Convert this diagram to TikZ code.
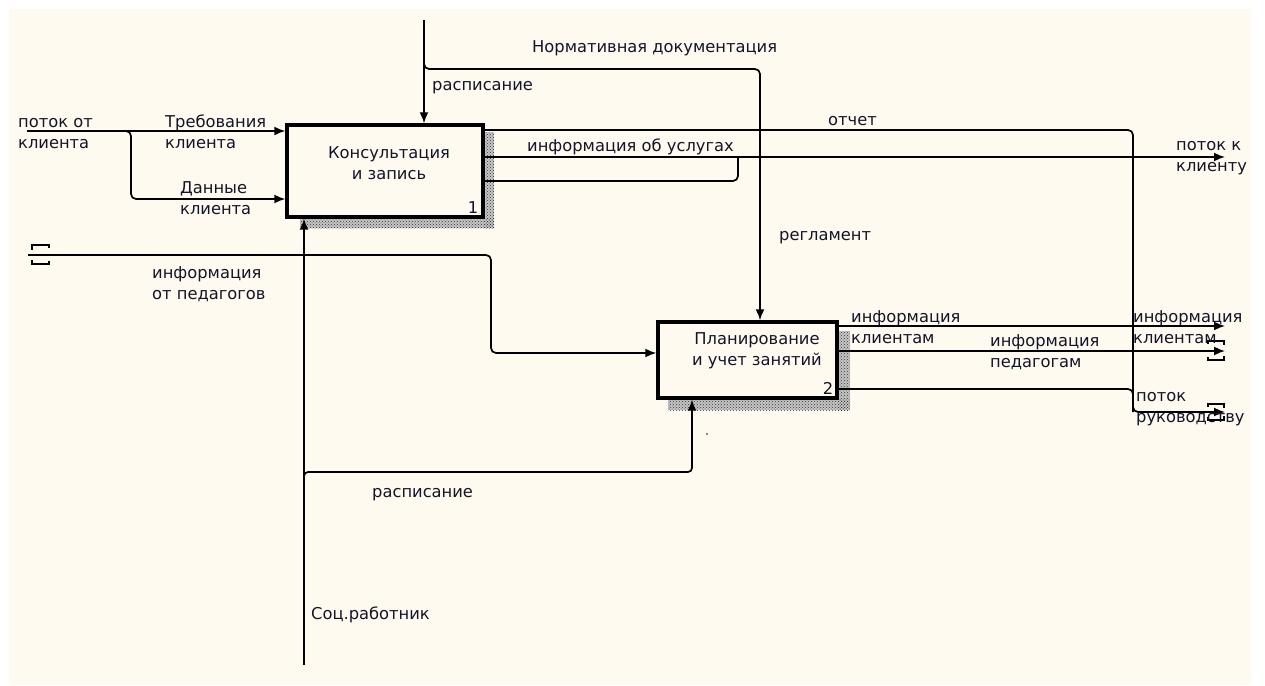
\documentclass[tikz,border=0pt]{standalone}
\usepackage{fontspec}
\setmainfont{DejaVu Sans}
\usetikzlibrary{arrows.meta,patterns}
\definecolor{bg}{RGB}{255,250,240}
\definecolor{txt}{RGB}{20,20,40}
\begin{document}
\begin{tikzpicture}[x=1pt,y=-1pt,
  line/.style={line width=1.7pt, draw=black},
  arr/.style={line, -{Latex[length=11pt,width=9pt]}},
  rarr/.style={arr, rounded corners=5pt},
  rline/.style={line, rounded corners=5pt},
  box/.style={draw, line width=3.4pt, inner sep=0pt, fill=bg},
  lbl/.style={font=\fontsize{16.3}{21}\selectfont, inner sep=0pt, align=left, anchor=west, text=txt},
  clbl/.style={lbl, align=center, anchor=center},
  shadowbg/.style={fill=gray!45},
  shadow/.style={pattern=crosshatch dots, pattern color=black!80},
  tunnel/.style={line width=1.5pt}
]
\useasboundingbox (0,0) rectangle (1265,685);
\fill[white] (0,0) rectangle (1265,685);
\fill[bg] (9,9) rectangle (1251,685);

% shadows
\fill[shadowbg] (484,132) rectangle (494,228);
\fill[shadowbg] (300,218) rectangle (494,228);
\fill[shadowbg] (838,331) rectangle (850,410);
\fill[shadowbg] (668,399) rectangle (850,410);
\fill[shadow] (484,132) rectangle (494,228);
\fill[shadow] (300,218) rectangle (494,228);
\fill[shadow] (838,331) rectangle (850,410);
\fill[shadow] (668,399) rectangle (850,410);

% boxes
\node[box, minimum width=196pt, minimum height=92pt] (box1) at (385,171) {};
\node[box, minimum width=179pt, minimum height=76pt] (box2) at (747.5,360) {};

% coordinates
\coordinate (ctop) at (424,20);
\coordinate (ntop) at (424,62);
\coordinate (nr) at (760,69);
\coordinate (inA) at (27,131);
\coordinate (inAb) at (124,131);
\coordinate (inAd) at (131,199);
\coordinate (inB) at (28,255);
\coordinate (ib) at (491,353);
\coordinate (mbot) at (304,665);
\coordinate (mbr) at (304,477);
\coordinate (mr) at (692,472);
\coordinate (outK) at (1225,157);
\coordinate (outR) at (1225,412);
\coordinate (outC) at (1225,326);
\coordinate (outP) at (1225,351);
\coordinate (j1) at (738,157);
\coordinate (jr) at (1133,412);
\coordinate (y130) at (0,130);
\coordinate (y157) at (0,157);
\coordinate (y181) at (0,181);
\coordinate (y326) at (0,326);
\coordinate (y351) at (0,351);
\coordinate (y389) at (0,389);

% controls
\draw[arr] (ctop) -- (ctop |- box1.north);
\draw[rarr] (ntop) |- (nr) -- (nr |- box2.north);

% inputs
\draw[arr] (inA) -- (inA -| box1.west);
\draw[rarr] (inAb) -| (inAd) -- (inAd -| box1.west);
\draw[rarr] (inB) -| (ib) -- (ib -| box2.west);

% mechanisms
\draw[arr] (mbot) -- (mbot |- box1.south);
\draw[arr, rounded corners=4pt] (mbr) |- (mr) -- (mr |- box2.south);

% outputs box1
\draw[rarr] (box1.east |- y130) -| (jr) -- (outR);
\draw[arr] (box1.east |- y157) -- (outK);
\draw[rline] (box1.east |- y181) -| (j1);

% outputs box2
\draw[arr] (box2.east |- y326) -- (outC);
\draw[arr] (box2.east |- y351) -- (outP);
\draw[rline] (box2.east |- y389) -| (jr);

% tunnels
\draw[tunnel] (32,250) -- (32,245) -- (49,245) -- (49,248);
\draw[tunnel] (32,260) -- (32,264) -- (49,264) -- (49,261);
\draw[tunnel] (1208,344) -- (1208,341) -- (1224,341) -- (1224,345);
\draw[tunnel] (1208,357) -- (1208,360) -- (1224,360) -- (1224,356);
\draw[tunnel] (1208,407) -- (1208,404) -- (1224,404) -- (1224,408);
\draw[tunnel] (1208,417) -- (1208,420) -- (1224,420) -- (1224,416);

% box texts
\node[clbl] (t1) at (389,163) {Консультация\\и запись};
\node[lbl, anchor=center] (n1) at (473,208) {1};
\node[clbl] (t2) at (757,351) {Планирование\\и учет занятий};
\node[lbl, anchor=center] (n2) at (828,388) {2};

% labels
\node[lbl] (l1) at (532,48) {Нормативная документация};
\node[lbl] (l2) at (432,88) {расписание};
\node[lbl] (l3) at (828,121) {отчет};
\node[lbl] (l4) at (527,147) {информация об услугах};
\node[lbl] (l5) at (1176,158) {поток к\\клиенту};
\node[lbl] (l6) at (18,134) {поток от\\клиента};
\node[lbl] (l7) at (165,131.5) {Требования\\клиента};
\node[lbl] (l8) at (180,198.5) {Данные\\клиента};
\node[lbl] (l9) at (779,238) {регламент};
\node[lbl] (l10) at (152,284) {информация\\от педагогов};
\node[lbl] (l11) at (851,327) {информация\\клиентам};
\node[lbl] (l12) at (990,352) {информация\\педагогам};
\node[lbl] (l13) at (1133,327) {информация\\клиентам};
\node[lbl] (l14) at (1136,409) {поток\\руководству};
\node[lbl] (l15) at (372,495) {расписание};
\node[lbl] (l16) at (311,615) {Соц.работник};
\node[circle, fill=txt, inner sep=0pt, minimum size=1.6pt] (dot) at (707,434) {};
\end{tikzpicture}
\end{document}
